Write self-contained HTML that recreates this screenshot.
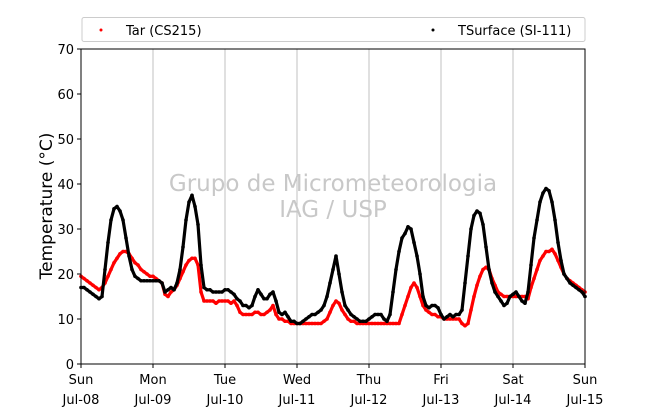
<!DOCTYPE html>
<html><head><meta charset="utf-8"><style>
html,body{margin:0;padding:0;background:#fff;}
svg{display:block;font-family:"DejaVu Sans","Liberation Sans",sans-serif;}
</style></head><body>
<svg id="chart" width="650" height="409" viewBox="0 0 650 409">
<g id="grid"></g>
<g fill="#c8c8c8" font-size="23" text-anchor="middle">
<text x="333" y="191">Grupo de Micrometeorologia</text>
<text x="333" y="217">IAG / USP</text>
</g>
<g id="series"></g>
<rect x="81" y="49" width="504" height="315" fill="none" stroke="#000" stroke-width="1"/>
<g id="yaxis" font-size="13"></g>
<g id="xaxis" font-size="13"></g>
<text x="0" y="0" transform="translate(52,206) rotate(-90)" text-anchor="middle" font-size="17">Temperature (°C)</text>
<g>
<rect x="82" y="17.5" width="503" height="24" rx="2" fill="#fff" stroke="#ccc"/>
<circle cx="101" cy="30" r="1.5" fill="red"/>
<text x="126" y="35" font-size="13">Tar (CS215)</text>
<circle cx="433" cy="30" r="1.5" fill="#000"/>
<text x="458" y="35" font-size="13">TSurface (SI-111)</text>
</g>
</svg>
<script>
const dayLabels = ["Sun","Mon","Tue","Wed","Thu","Fri","Sat","Sun"];
const dateLabels = ["Jul-08","Jul-09","Jul-10","Jul-11","Jul-12","Jul-13","Jul-14","Jul-15"];
const yTicks = [0,10,20,30,40,50,60,70];
const tarValues = [
19.5,19,18.5,18,17.5,17,16.5,17,18,19.5,21,22.5,23.5,24.5,25,25,24.5,23.5,22.5,22,21,20.5,20,19.5,
19.5,19,18.5,18,15.5,15,16,16.5,17.5,19,20.5,22,23,23.5,23.5,22,16,14,14,14,14,13.5,14,14,
14,14,13.5,14,13,11.5,11,11,11,11,11.5,11.5,11,11,11.5,12,13,11,10,10,9.5,9.5,9,9,
9,9,9,9,9,9,9,9,9,9.5,10,11.5,13,14,13.5,12,11,10,9.5,9.5,9,9,9,9,
9,9,9,9,9,9,9,9,9,9,9,11,13,15,17,18,17,15,13,12,11.5,11,11,10.5,
10.5,10,10,10,10,10,10,9,8.5,9,12,15,17.5,19.5,21,21.5,21,19,17.5,16,15.5,15,15,15,
15,15,15,15,15,14.5,17,19,21,23,24,25,25,25.5,24.5,23,21.5,20,19,18.5,18,17.5,17,16.5,16];
const tsurfValues = [
17,17,16.5,16,15.5,15,14.5,15,21,27,32,34.5,35,34,32,28,24,21,19.5,19,18.5,18.5,18.5,18.5,
18.5,18.5,18.5,18,16,16.5,17,16.5,18,21,26,32,36,37.5,35,31,22,17,16.5,16.5,16,16,16,16,
16.5,16.5,16,15.5,14.5,14,13,13,12.5,13,15,16.5,15.5,14.5,14.5,15.5,16,14,11.5,11,11.5,10.5,9.5,9.5,
9,9,9.5,10,10.5,11,11,11.5,12,13,15,18,21,24,20,16,13,12,11,10.5,10,9.5,9.5,9.5,
10,10.5,11,11,11,10,9.5,11,16,21,25,28,29,30.5,30,27,24,20,15,13,12.5,13,13,12.5,
11,10,10.5,11,10.5,11,11,12,18,24,30,33,34,33.5,31,26,21,18,16,15,14,13,13.5,15,
15.5,16,15,14,13.5,16,22,28,32,36,38,39,38.5,36,32,27,23,20,19,18,17.5,17,16.5,16,15];
const X0=81,X1=585,Y0=364,Y1=49,HOURS=168,TMAX=70;
const xs=h=>X0+(X1-X0)*h/HOURS;
const ys=t=>Y0-(Y0-Y1)*t/TMAX;
const NS="http://www.w3.org/2000/svg";
function mk(tag,attrs,parent){const e=document.createElementNS(NS,tag);for(const k in attrs)e.setAttribute(k,attrs[k]);parent.appendChild(e);return e;}
const grid=document.getElementById('grid'),xa=document.getElementById('xaxis'),ya=document.getElementById('yaxis'),ser=document.getElementById('series');
dayLabels.forEach((d,i)=>{
  const x=xs(i*24);
  if(i>0&&i<dayLabels.length-1){const g=mk('line',{x1:x,x2:x,y1:Y1,y2:Y0,stroke:'#c0c0c0','stroke-width':1},grid);
  
  }
  const tk=mk('line',{x1:x,x2:x,y1:Y0,y2:Y0+4,stroke:'#000'},xa);
  
  
  const t1=mk('text',{x:x,y:Y0+20,'text-anchor':'middle'},xa);t1.textContent=d;
  
  
  const t2=mk('text',{x:x,y:Y0+40,'text-anchor':'middle'},xa);t2.textContent=dateLabels[i];
  
  
});
yTicks.forEach(v=>{
  const y=ys(v);
  const tk=mk('line',{x1:X0-4,x2:X0,y1:y,y2:y,stroke:'#000'},ya);
  
  
  const t=mk('text',{x:X0-7,y:y+5,'text-anchor':'end'},ya);t.textContent=v;
  
  
});
function draw(vals,color,name){
  const pts=vals.map((v,i)=>xs(i).toFixed(1)+','+ys(v).toFixed(1)).join(' ');
  const pl=mk('polyline',{points:pts,fill:'none',stroke:color,'stroke-width':3.2,'stroke-linejoin':'round','stroke-linecap':'round'},ser);
  
  
  vals.forEach((v,i)=>{const c=mk('circle',{cx:xs(i),cy:ys(v),r:1.8,fill:color},ser);
  
  });
}
draw(tarValues,'red','tar-series');
draw(tsurfValues,'#000','tsurface-series');
</script>
</body></html>
